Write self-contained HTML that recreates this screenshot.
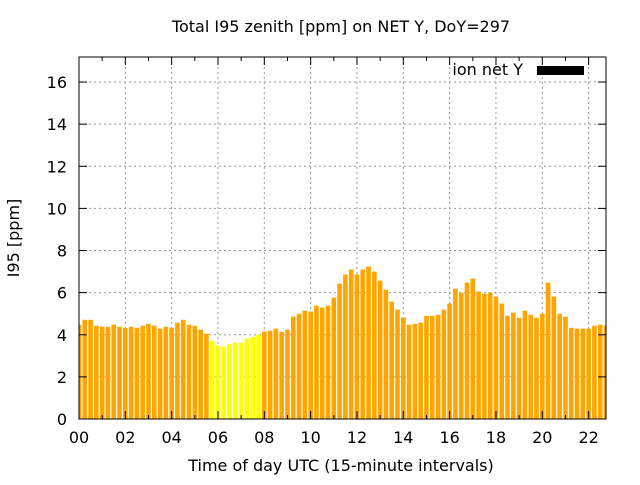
<!DOCTYPE html>
<html><head><meta charset="utf-8"><style>
body{margin:0;background:#fff;}
svg text{font-family:"DejaVu Sans","Liberation Sans",sans-serif;fill:#000;}
</style></head><body>
<svg id="chart" width="640" height="480" xmlns="http://www.w3.org/2000/svg">
<rect width="640" height="480" fill="#fff"/>
<text x="341" y="32" font-size="16" text-anchor="middle">Total I95 zenith [ppm] on NET Y, DoY=297</text>
<g id="grid"></g>
<g id="bars"></g>
<g id="axes"></g>
<text x="341" y="471" font-size="16" text-anchor="middle">Time of day UTC (15-minute intervals)</text>
<text transform="translate(19,238) rotate(-90)" font-size="16" text-anchor="middle">I95 [ppm]</text>
<g>
<text x="523" y="75" font-size="16" text-anchor="end">ion net Y</text>
<rect x="537" y="66" width="47" height="9" fill="#000"/>
</g>
</svg>
<script>
const values = [4.48,4.71,4.71,4.43,4.38,4.38,4.48,4.38,4.33,4.38,4.33,4.43,4.52,4.43,4.29,4.38,4.33,4.57,4.71,4.48,4.43,4.24,4.05,
3.71,3.48,3.43,3.57,3.62,3.62,3.81,3.90,4.0,
4.14,4.19,4.29,4.14,4.24,4.86,5.0,5.14,5.10,5.38,5.29,5.38,5.76,6.43,
6.86,7.10,6.86,7.10,7.24,7.0,6.57,6.14,5.57,5.19,4.81,4.48,4.52,4.57,4.90,4.90,4.95,5.19,5.48,6.19,6.0,6.48,6.67,6.05,5.95,6.0,5.81,5.48,4.90,5.05,4.81,5.14,4.95,4.81,5.0,6.48,5.81,5.0,4.86,4.33,4.29,4.29,4.29,4.43,4.48,4.43];
const highlightStart = 23, highlightEnd = 31;
const xTickLabels = ["00","02","04","06","08","10","12","14","16","18","20","22"];
const yTickLabels = ["0","2","4","6","8","10","12","14","16"];
const L=79,R=606,T=57,B=419,XMAX=22.75,YMAX=(419-57)/21.06;
const sx=h=>L+h*(R-L)/XMAX, sy=v=>B-v*(B-T)/YMAX;
const NS="http://www.w3.org/2000/svg";
function mk(tag,attrs,parent){const e=document.createElementNS(NS,tag);for(const k in attrs)e.setAttribute(k,attrs[k]);parent.appendChild(e);return e;}
const grid=document.getElementById('grid'),barsG=document.getElementById('bars'),axes=document.getElementById('axes');
yTickLabels.forEach(t=>{const v=+t,y=sy(v);
 if(v>0){const g=mk('line',{x1:L,x2:R,y1:y,y2:y,stroke:'#999','stroke-dasharray':'2,3'},grid);
 
 }
 mk('line',{x1:L,x2:L+8,y1:y,y2:y,stroke:'#000'},axes);
 mk('line',{x1:R,x2:R-8,y1:y,y2:y,stroke:'#000'},axes);
 const tx=mk('text',{x:L-12,y:y+6,'font-size':16,'text-anchor':'end'},axes);tx.textContent=t;
 
 
});
for(let h=0;h<=22;h++){const x=sx(h);
 mk('line',{x1:x,x2:x,y1:B,y2:B-(h%2?4:8),stroke:'#000'},axes);
 mk('line',{x1:x,x2:x,y1:T,y2:T+(h%2?4:8),stroke:'#000'},axes);
}
xTickLabels.forEach(t=>{const h=+t,x=sx(h);
 if(h>0){const g=mk('line',{x1:x,x2:x,y1:T,y2:B,stroke:'#999','stroke-dasharray':'2,3'},grid);
 
 }
 const tx=mk('text',{x:x,y:B+24,'font-size':16,'text-anchor':'middle'},axes);tx.textContent=t;
 
 
});
const bw=0.2*(R-L)/XMAX;
values.forEach((v,i)=>{const cx=sx(i*0.25);let x0=Math.max(L,cx-bw/2),x1=Math.min(R,cx+bw/2);
 const r=mk('rect',{x:x0,y:sy(v),width:Math.max(0,x1-x0),height:B-sy(v),fill:(i>=highlightStart&&i<=highlightEnd)?'#ffff00':'#ffa500'},barsG);
 
 
});
const fr=mk('rect',{x:L,y:T,width:R-L,height:B-T,fill:'none',stroke:'#000','stroke-width':1},axes);


</script>
</body></html>
